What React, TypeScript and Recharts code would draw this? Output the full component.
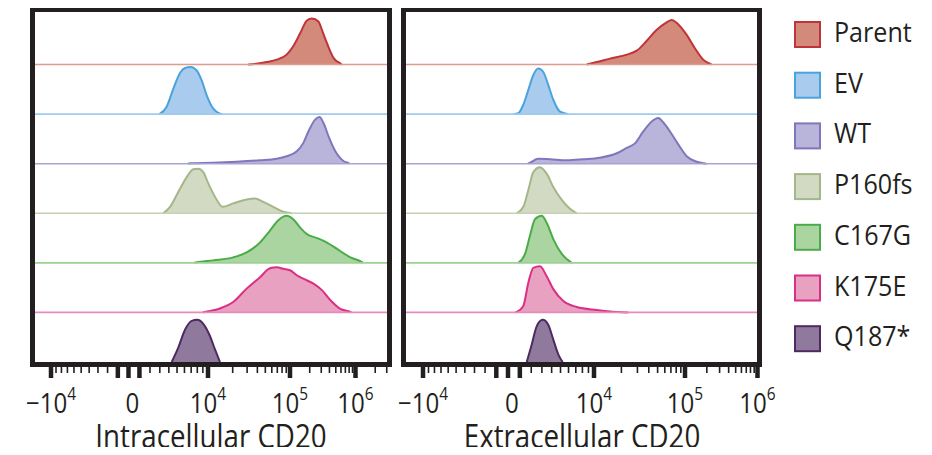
import { Area, ComposedChart, ReferenceLine, XAxis, YAxis } from "recharts"

const samples = ["Parent", "EV", "WT", "P160fs", "C167G", "K175E", "Q187*"]
const fillColors = ["#d48a7b", "#a8cbee", "#b9b4da", "#d3dac4", "#abd5a0", "#e9a1c2", "#8f7a9e"]
const strokeColors = ["#c0333a", "#4ba3dc", "#7f77bb", "#a3b788", "#4aac48", "#da2f85", "#4d2a62"]
const baseColors = ["#dc9c90", "#9fcbee", "#a9a3d3", "#c6d1b3", "#9dd093", "#e58cb8", "#4d2a62"]

// histograms: [intensity, height relative to the row]
const intraParent: [number, number][] = [
  [31000, 0], [52000, 0.05], [69000, 0.1], [91000, 0.2], [112000, 0.37], [143000, 0.63],
  [181000, 0.89], [216000, 0.93], [272000, 0.87], [307000, 0.7], [367000, 0.43],
  [464000, 0.13], [588000, 0.02], [620000, 0],
]
const intraEV: [number, number][] = [
  [2950, 0], [3750, 0.15], [4530, 0.51], [5390, 0.83], [6080, 0.93], [6930, 0.95],
  [7900, 0.88], [8780, 0.68], [9740, 0.38], [11600, 0.11], [14000, 0.01], [15000, 0],
]
const intraWT: [number, number][] = [
  [6500, 0], [6820, 0.01], [11600, 0.02], [22400, 0.04], [43100, 0.07], [69000, 0.1],
  [91000, 0.15], [127000, 0.25], [160000, 0.42], [191000, 0.65], [242000, 0.89],
  [282000, 0.94], [325000, 0.82], [388000, 0.55], [492000, 0.25], [661000, 0.05],
  [788000, 0.01], [800000, 0],
]
const intraP160fs: [number, number][] = [
  [3370, 0], [4140, 0.13], [5160, 0.43], [6330, 0.73], [7340, 0.89], [8180, 0.9],
  [9080, 0.83], [10100, 0.6], [12200, 0.33], [15100, 0.13], [20300, 0.2], [29600, 0.28],
  [37400, 0.3], [47200, 0.23], [62500, 0.13], [82800, 0.03], [106000, 0],
]
const intraC167G: [number, number][] = [
  [7500, 0], [7900, 0.01], [11600, 0.05], [20300, 0.11], [29600, 0.21], [43100, 0.41],
  [57000, 0.65], [72000, 0.86], [91000, 0.95], [112000, 0.88], [143000, 0.71],
  [181000, 0.58], [258000, 0.5], [367000, 0.41], [523000, 0.28], [838000, 0.11],
  [1270000, 0.01], [1300000, 0],
]
const intraK175E: [number, number][] = [
  [9000, 0], [9400, 0.01], [14000, 0.08], [20300, 0.21], [29600, 0.48], [43100, 0.71],
  [57000, 0.89], [69000, 0.91], [82800, 0.88], [100000, 0.85], [127000, 0.75],
  [160000, 0.68], [228000, 0.58], [307000, 0.45], [412000, 0.25], [588000, 0.07],
  [838000, 0.01], [860000, 0],
]
const intraQ187: [number, number][] = [
  [4340, 0], [5160, 0.29], [6080, 0.65], [7090, 0.83], [8000, 0.85], [9080, 0.77],
  [10400, 0.55], [12200, 0.25], [14000, 0],
]

const extraParent: [number, number][] = [
  [8700, 0], [10700, 0.05], [15000, 0.12], [22900, 0.2], [29500, 0.28], [38000, 0.48],
  [48900, 0.7], [60300, 0.83], [71400, 0.9], [84400, 0.81], [105500, 0.6],
  [137000, 0.33], [178000, 0.1], [232000, 0],
]
const extraEV: [number, number][] = [
  [445, 0], [870, 0.02], [1300, 0.19], [1740, 0.49], [2190, 0.79], [2650, 0.92],
  [3140, 0.85], [3640, 0.59], [4180, 0.29], [4940, 0.05], [5970, 0],
]
const extraWT: [number, number][] = [
  [1700, 0], [1890, 0.02], [2650, 0.1], [3830, 0.09], [5770, 0.07], [8140, 0.09],
  [11600, 0.12], [17800, 0.21], [22900, 0.32], [28200, 0.41], [34800, 0.65],
  [43100, 0.85], [50900, 0.92], [57800, 0.83], [68400, 0.65], [84400, 0.39],
  [105500, 0.15], [145000, 0.04], [198000, 0],
]
const extraP160fs: [number, number][] = [
  [735, 0], [1300, 0.13], [1740, 0.47], [2190, 0.83], [2810, 0.93], [3480, 0.8],
  [4180, 0.53], [5150, 0.27], [6200, 0.09], [7130, 0],
]
const extraC167G: [number, number][] = [
  [870, 0], [1450, 0.18], [1890, 0.55], [2340, 0.88], [2980, 0.95], [3480, 0.81],
  [4180, 0.48], [5150, 0.18], [6430, 0],
]
const extraK175E: [number, number][] = [
  [600, 0], [735, 0.01], [1300, 0.13], [1740, 0.6], [2190, 0.9], [2810, 0.93],
  [3480, 0.73], [4180, 0.47], [5340, 0.23], [7130, 0.11], [10700, 0.05],
  [17800, 0.01], [23800, 0],
]
const extraQ187: [number, number][] = [
  [1600, 0], [2040, 0.35], [2500, 0.72], [3080, 0.85], [3640, 0.75], [4180, 0.45],
  [4750, 0.15], [5260, 0],
]

const intraSeries = [intraParent, intraEV, intraWT, intraP160fs, intraC167G, intraK175E, intraQ187]
const extraSeries = [extraParent, extraEV, extraWT, extraP160fs, extraC167G, extraK175E, extraQ187]

// axis ticks
const majorTicks = [-1e4, -1e3, 0, 1e3, 1e4, 1e5, 1e6]
const labelTicks = [-1e4, 0, 1e4, 1e5, 1e6]
const labelBase = ["−10", "0", "10", "10", "10"]
const labelExp = ["4", "", "4", "5", "6"]
const minorSteps = [2, 3, 4, 5, 6, 7, 8, 9]
const minorDecades = [-1e3, 1e3, 1e4, 1e5, 1e6]
const minorTicks = minorDecades.flatMap((d) => minorSteps.map((m) => m * d))

const ink = "#231f20"
const font = "'Open Sans', 'Noto Sans', sans-serif"
const W = 352 // plot width, axis works in px units
const ROWS = 7.06

type Biex = { neg: number; zero: number; d4: number; d5: number; d6: number }
const intraAxis: Biex = { neg: 16, zero: 93.5, d4: 173, d5: 255, d6: 320.5 }
const extraAxis: Biex = { neg: 17, zero: 102, d4: 188, d5: 279, d6: 351.5 }

// biexponential-ish display transform
function biex(v: number, a: Biex) {
  const lin = (t: number) => Math.asinh(t / 5000) / Math.asinh(2)
  if (v >= 1e5) return a.d5 + (a.d6 - a.d5) * Math.log10(v / 1e5)
  if (v >= 1e4) return a.d4 + (a.d5 - a.d4) * Math.log10(v / 1e4)
  if (v >= 0) return a.zero + (a.d4 - a.zero) * lin(v)
  if (v >= -1e4) return a.zero - (a.zero - a.neg) * lin(-v)
  return a.neg - (a.zero - a.neg) * Math.log10(-v / 1e4)
}

interface PanelProps {
  series: [number, number][][]
  axis: Biex
  title: string
  left: number
}

function Panel({ series, axis, title, left }: PanelProps) {
  const ticks = [...majorTicks, ...minorTicks]
    .map((v) => ({ v, pos: biex(v, axis) }))
    .filter((t) => t.pos >= 0 && t.pos <= W)

  const renderTick = (props: any) => {
    const { x, y, payload } = props
    const t = ticks.find((k) => Math.abs(k.pos - payload.value) < 1e-6)
    if (!t) return <g />
    const major = majorTicks.includes(t.v)
    const li = labelTicks.indexOf(t.v)
    return (
      <g>
        <line
          x1={x}
          x2={x}
          y1={y}
          y2={y + (major ? 16 : 11)}
          stroke={ink}
          strokeWidth={major ? 4.5 : 1.6}
        />
        {li >= 0 && (
          <g transform={`translate(${x + (t.v === 0 ? 4 : 0)},${y + 51}) scale(0.86,1)`}>
            <text textAnchor="middle" fontFamily={font} fontSize={28} fill={ink}>
              {labelBase[li]}
              {labelExp[li] && (
                <tspan dy={-13} fontSize={18}>
                  {labelExp[li]}
                </tspan>
              )}
            </text>
          </g>
        )}
      </g>
    )
  }

  return (
    <div style={{ position: "absolute", left, top: 0 }}>
      <ComposedChart width={412} height={455} margin={{ top: 12, right: 25, bottom: 0, left: 35 }}>
        <XAxis
          type="number"
          dataKey="x"
          domain={[0, W]}
          allowDataOverflow
          ticks={ticks.map((t) => t.pos)}
          tick={renderTick}
          interval={0}
          tickLine={false}
          axisLine={false}
          tickSize={0}
          tickMargin={0}
          height={93}
          label={{
            content: (p: any) => {
              const vb = p.viewBox || { x: 35, y: 362, width: W }
              return (
                <g transform={`translate(${vb.x + vb.width / 2},${vb.y + 86}) scale(0.84,1)`}>
                  <text textAnchor="middle" fontFamily={font} fontSize={33} fill={ink}>
                    {title}
                  </text>
                </g>
              )
            },
          }}
        />
        <YAxis hide type="number" domain={[0, ROWS]} allowDataOverflow />
        {samples.slice(0, 6).map((s, i) => (
          <ReferenceLine key={`base-${s}`} y={6 - i} stroke={baseColors[i]} strokeWidth={1.6} />
        ))}
        {series.map((pts, i) => {
          const off = 6 - i
          const data = pts.map(([v, h]) => ({ x: biex(v, axis), y: off + h }))
          return (
            <Area
              key={samples[i]}
              data={data}
              dataKey="y"
              type="monotone"
              baseValue={off}
              fill={fillColors[i]}
              fillOpacity={1}
              stroke={strokeColors[i]}
              strokeWidth={2}
              dot={false}
              activeDot={false}
              isAnimationActive={false}
            />
          )
        })}
      </ComposedChart>
    </div>
  )
}

function Legend() {
  return (
    <svg width={152} height={370} style={{ position: "absolute", left: 780, top: 0 }}>
      {samples.map((s, i) => {
        const top = 21 + 50.7 * i
        return (
          <g key={s}>
            <rect x={15} y={top + 1} width={25} height={25} fill={fillColors[i]} stroke={strokeColors[i]} strokeWidth={2} />
            <g transform={`translate(54,${top + 21}) scale(0.93,1)`}>
              <text fontFamily={font} fontSize={27} fill={ink}>
                {s}
              </text>
            </g>
          </g>
        )
      })}
    </svg>
  )
}

const frameStyle = {
  position: "absolute" as const,
  top: 7,
  height: 360,
  border: `5px solid ${ink}`,
  boxSizing: "border-box" as const,
  pointerEvents: "none" as const,
}

export default function App() {
  return (
    <div style={{ position: "relative", width: 932, height: 455, margin: -8, background: "#fff", overflow: "hidden" }}>
      <Panel series={intraSeries} axis={intraAxis} title="Intracellular CD20" left={0} />
      <Panel series={extraSeries} axis={extraAxis} title="Extracellular CD20" left={371} />
      <div style={{ ...frameStyle, left: 30, width: 362 }} />
      <div style={{ ...frameStyle, left: 401, width: 361 }} />
      <Legend />
    </div>
  )
}
